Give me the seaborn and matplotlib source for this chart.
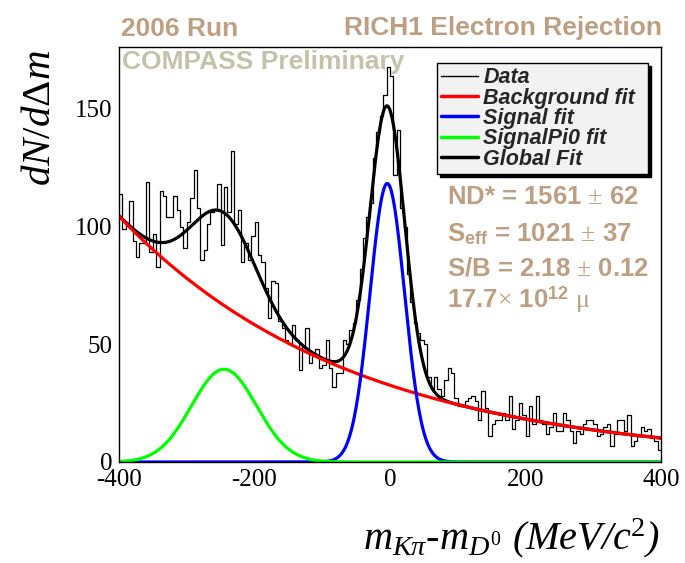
import numpy as np
import pandas as pd
import matplotlib
matplotlib.use("Agg")
import matplotlib.pyplot as plt
from matplotlib.lines import Line2D
import seaborn as sns

# K-pi mass difference spectrum, 5 MeV/c^2 bins from -400 to 400
bin_lo = -400
bin_hi = 400
bin_width = 5
counts = [
    114, 99, 101, 111, 94, 87, 93, 93, 119, 89,
    97, 83, 115, 113, 104, 104, 113, 107, 100, 91,
    102, 112, 124, 108, 86, 90, 101, 106, 107, 118,
    92, 117, 106, 132, 101, 107, 85, 93, 86, 96,
    102, 88, 85, 74, 61, 77, 76, 60, 57, 52,
    50, 58, 52, 39, 49, 57, 42, 46, 48, 40,
    41, 52, 40, 32, 38, 38, 52, 50, 56, 59,
    69, 82, 95, 104, 110, 129, 140, 147, 156, 168,
    164, 122, 141, 108, 100, 80, 68, 59, 55, 52,
    50, 36, 31, 36, 31, 28, 35, 40, 38, 27,
    24, 24, 26, 27, 28, 26, 18, 30, 23, 11,
    16, 18, 18, 21, 18, 28, 14, 18, 25, 20,
    11, 24, 16, 28, 18, 16, 12, 15, 21, 13,
    13, 21, 18, 13, 8, 13, 12, 16, 18, 18,
    16, 11, 12, 15, 16, 7, 12, 18, 18, 13,
    20, 7, 9, 11, 15, 13, 14, 10, 9, 5,
]

# fitted components: exponential background, D0 signal, D0 -> K pi pi0 reflection
bkg_norm = 32.6
bkg_slope = -0.00291
sig_amp = 118.3
sig_mean = -4.0
sig_sigma = 25.5
pi0_amp = 39.4
pi0_mean = -245.0
pi0_sigma = 48.0

legend_labels = ["Data", "Background fit", "Signal fit", "SignalPi0 fit", "Global Fit"]
x_ticks = [-400, -200, 0, 200, 400]
y_ticks = [0, 50, 100, 150]
y_max = 176.3

stats_lines = [
    r"ND* = 1561 $\pm$ 62",
    r"S$_{\mathbf{eff}}$ = 1021 $\pm$ 37",
    r"S/B = 2.18 $\pm$ 0.12",
    r"17.7$\times$ 10$^{\mathbf{12}}$ $\mathrm{\mu}$",
]

tan = "#bf9f82"
grey_olive = "#c4c2aa"

sns.set_theme(style="white")
plt.rcParams.update({
    "font.family": ["Liberation Serif", "DejaVu Serif"],
    "mathtext.fontset": "custom",
    "mathtext.rm": "Liberation Serif",
    "mathtext.it": "Liberation Serif:italic",
    "mathtext.bf": "Liberation Sans:bold",
    "axes.edgecolor": "black",
    "axes.linewidth": 1.0,
})

W, H = 685, 563
fig = plt.figure(figsize=(W / 100, H / 100), dpi=100)
fig.patch.set_facecolor("white")

def fx(px):
    return px / W

def fy(py):
    return 1 - py / H

ax_l, ax_r, ax_t, ax_b = 119, 661, 47, 462
ax = fig.add_axes([fx(ax_l), fy(ax_b), (ax_r - ax_l) / W, (ax_b - ax_t) / H])

centers = np.arange(bin_lo, bin_hi, bin_width) + bin_width / 2
hist_df = pd.DataFrame({"mass": centers, "entries": counts})
sns.histplot(data=hist_df, x="mass", weights="entries", binwidth=bin_width,
             binrange=(bin_lo, bin_hi), element="step", fill=False,
             color="black", linewidth=0.9, ax=ax)

grid = np.linspace(bin_lo, bin_hi, 801)
bkg = bkg_norm * np.exp(bkg_slope * grid)
sig = sig_amp * np.exp(-0.5 * ((grid - sig_mean) / sig_sigma) ** 2)
pi0 = pi0_amp * np.exp(-0.5 * ((grid - pi0_mean) / pi0_sigma) ** 2)
total = bkg + sig + pi0

sns.lineplot(x=grid, y=total, color="black", linewidth=2.3, ax=ax)
sns.lineplot(x=grid, y=bkg, color="#ff0000", linewidth=2.3, ax=ax)
sns.lineplot(x=grid, y=sig, color="#0000ff", linewidth=2.3, ax=ax)
sns.lineplot(x=grid, y=pi0, color="#00ff00", linewidth=2.3, ax=ax)

ax.set_xlim(bin_lo, bin_hi)
ax.set_ylim(0, y_max)
ax.set_xticks(x_ticks)
ax.set_yticks(y_ticks)
ax.set_xticklabels([str(t) for t in x_ticks])
ax.set_yticklabels([str(t) for t in y_ticks])
ax.set_xlabel("")
ax.set_ylabel("")
ax.tick_params(axis="x", direction="in", length=8.6, width=1, labelsize=18, pad=5, colors="black")
ax.tick_params(axis="y", direction="in", length=11.5, width=1, labelsize=18, pad=5, colors="black")
for s in ax.spines.values():
    s.set_visible(True)
    s.set_color("black")
    s.set_linewidth(1.0)

handles = [
    Line2D([], [], color="black", lw=1.0),
    Line2D([], [], color="#ff0000", lw=2.5),
    Line2D([], [], color="#0000ff", lw=2.5),
    Line2D([], [], color="#00ff00", lw=2.5),
    Line2D([], [], color="black", lw=2.5),
]
leg = ax.legend(handles, legend_labels, loc="upper left",
                bbox_to_anchor=(fx(437), fy(172), (648 - 437) / W, (172 - 63) / H),
                bbox_transform=fig.transFigure, mode="expand",
                prop={"family": "Liberation Sans", "weight": "bold", "style": "italic", "size": 15.5},
                handlelength=1.7, handletextpad=0.25, borderpad=0.2, labelspacing=-0.03,
                fancybox=False, frameon=True, borderaxespad=0,
                shadow={"color": "black", "alpha": 1.0})
leg.get_frame().set_facecolor("#f2f2f2")
leg.get_frame().set_edgecolor("black")
leg.get_frame().set_linewidth(1.0)
leg.get_frame().set_alpha(1.0)

sans_bold = {"family": "Liberation Sans", "weight": "bold"}
fig.text(fx(121), fy(35.5), "2006 Run", ha="left", va="baseline", fontsize=19, color=tan, **sans_bold)
fig.text(fx(662), fy(35.5), "RICH1 Electron Rejection", ha="right", va="baseline", fontsize=19, color=tan, **sans_bold)
fig.text(fx(122), fy(69), "COMPASS Preliminary", ha="left", va="baseline", fontsize=19, color=grey_olive, **sans_bold)

for line, base in zip(stats_lines, [204, 241, 276, 308]):
    fig.text(fx(447), fy(base), line, ha="left", va="baseline", fontsize=18.5, color=tan, **sans_bold)

fig.text(fx(41), fy(50), r"$dN/d\Delta m$", rotation=90, ha="center", va="top", fontsize=29.5, color="black")
fig.text(fx(660), fy(549), r"$m_{K\pi}$-$m_{D^{0}}$ (MeV/c$^{2}$)", ha="right", va="baseline",
         fontsize=29, style="italic", family="Liberation Serif", color="black")

fig.savefig("out.png", dpi=100, facecolor="white")
